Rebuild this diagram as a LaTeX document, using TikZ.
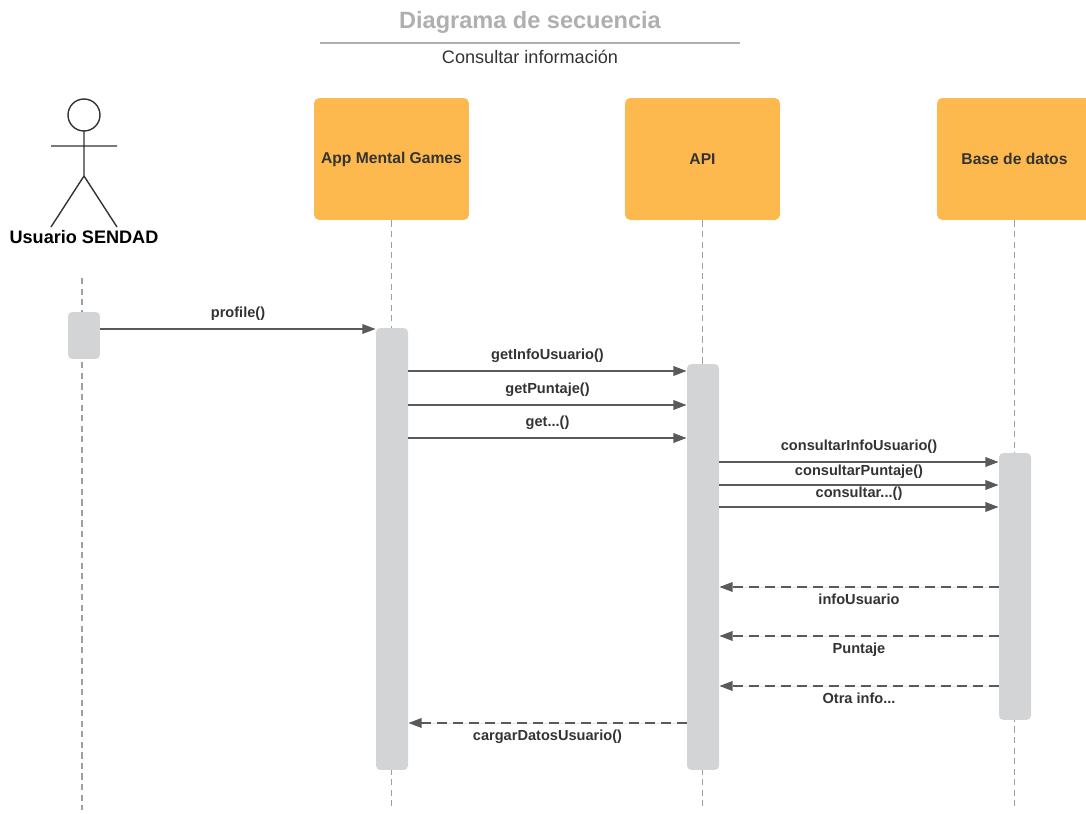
\documentclass[tikz,border=0pt]{standalone}
\usepackage{fontspec}
\setmainfont{Liberation Sans}
\usetikzlibrary{arrows,arrows.meta,positioning}
\definecolor{naranja}{HTML}{FDB94E}
\definecolor{grisact}{HTML}{D3D4D6}
\definecolor{flecha}{HTML}{5A5A5A}
\definecolor{texto}{HTML}{333333}
\definecolor{titulo}{HTML}{AFAFAF}
\tikzset{every picture/.style={line width=0.5pt}}
\tikzstyle{objeto}=[rectangle,rounded corners=3pt,fill=naranja,minimum width=3.1cm,minimum height=2.44cm,font=\fontsize{8.9}{10}\selectfont\bfseries,text=texto]
\tikzstyle{activ}=[rectangle,rounded corners=2.5pt,fill=grisact,minimum width=0.64cm,inner sep=0pt]
\tikzstyle{vida}=[draw=gray!75,dash pattern=on 3.5pt off 2.5pt,line width=0.6pt]
\tikzstyle{msg}=[-{Triangle[length=7.5pt,width=5.5pt]},draw=flecha,fill=flecha,line width=0.8pt,font=\fontsize{8.3}{10}\selectfont\bfseries,text=texto]
\tikzstyle{ret}=[msg,dash pattern=on 5.7pt off 3.4pt]

\begin{document}
\begin{tikzpicture}[x=0.02cm,y=-0.02cm]
\useasboundingbox (0,0) rectangle (1086,814);
% titulo
\node[font=\fontsize{13.4}{16}\selectfont\bfseries,text=titulo] (tit) at (530,22) {Diagrama de secuencia};
\coordinate (t1) at (320,43);
\coordinate (t2) at (740,43);
\draw[titulo,line width=1pt] (t1) -- (t2);
\node[font=\fontsize{10.3}{12}\selectfont,text=texto] (sub) at (530,57) {Consultar información};
% actor
\draw[texto,line width=0.8pt] (84,115) circle [radius=0.32cm];
\draw[texto,line width=0.8pt] (84,131) -- (84,176) (51,146) -- (117,146) (51,227) -- (84,176) -- (117,227);
\node[font=\fontsize{10.3}{12}\selectfont\bfseries] (usr) at (84,237) {Usuario SENDAD};
% objetos
\node[objeto] (app) at (391.5,159) {App Mental Games};
\node[objeto] (api) at (702.5,159) {API};
\node[objeto] (bd) at (1014.5,159) {Base de datos};
% lineas de vida
\coordinate (vUsr) at (82,278);
\draw[vida] (vUsr) -- (vUsr |- 0,810);
\draw[vida] (app.south) -- (app.south |- 0,810);
\draw[vida] (api.south) -- (api.south |- 0,810);
\draw[vida] (bd.south) -- (bd.south |- 0,810);
% activaciones
\node[activ,minimum height=0.94cm] (aUsr) at (84,335.5) {};
\node[activ,minimum height=8.84cm] (aApp) at (392,549) {};
\node[activ,minimum height=8.12cm] (aApi) at (703,567) {};
\node[activ,minimum height=5.34cm] (aBd) at (1015,586.5) {};
% mensajes
\path
(aUsr.east |- 0,329) edge[msg] node[above=1pt]{profile()} (aApp.west |- 0,329)
(aApp.east |- 0,371) edge[msg] node[above=1pt]{getInfoUsuario()} (aApi.west |- 0,371)
(aApp.east |- 0,405) edge[msg] node[above=1pt]{getPuntaje()} (aApi.west |- 0,405)
(aApp.east |- 0,438) edge[msg] node[above=1pt]{get...()} (aApi.west |- 0,438)
(aApi.east |- 0,462) edge[msg] node[above=1pt]{consultarInfoUsuario()} (aBd.west |- 0,462)
(aApi.east |- 0,485) edge[msg] node[above=0pt]{consultarPuntaje()} (aBd.west |- 0,485)
(aApi.east |- 0,507) edge[msg] node[above=0pt]{consultar...()} (aBd.west |- 0,507);
% respuestas
\path
(aBd.west |- 0,587) edge[ret] node[below=0pt]{infoUsuario} (aApi.east |- 0,587)
(aBd.west |- 0,636) edge[ret] node[below=0pt]{Puntaje} (aApi.east |- 0,636)
(aBd.west |- 0,686) edge[ret] node[below=0pt]{Otra info...} (aApi.east |- 0,686)
(aApi.west |- 0,723) edge[ret] node[below=0pt]{cargarDatosUsuario()} (aApp.east |- 0,723);
\end{tikzpicture}
\end{document}
